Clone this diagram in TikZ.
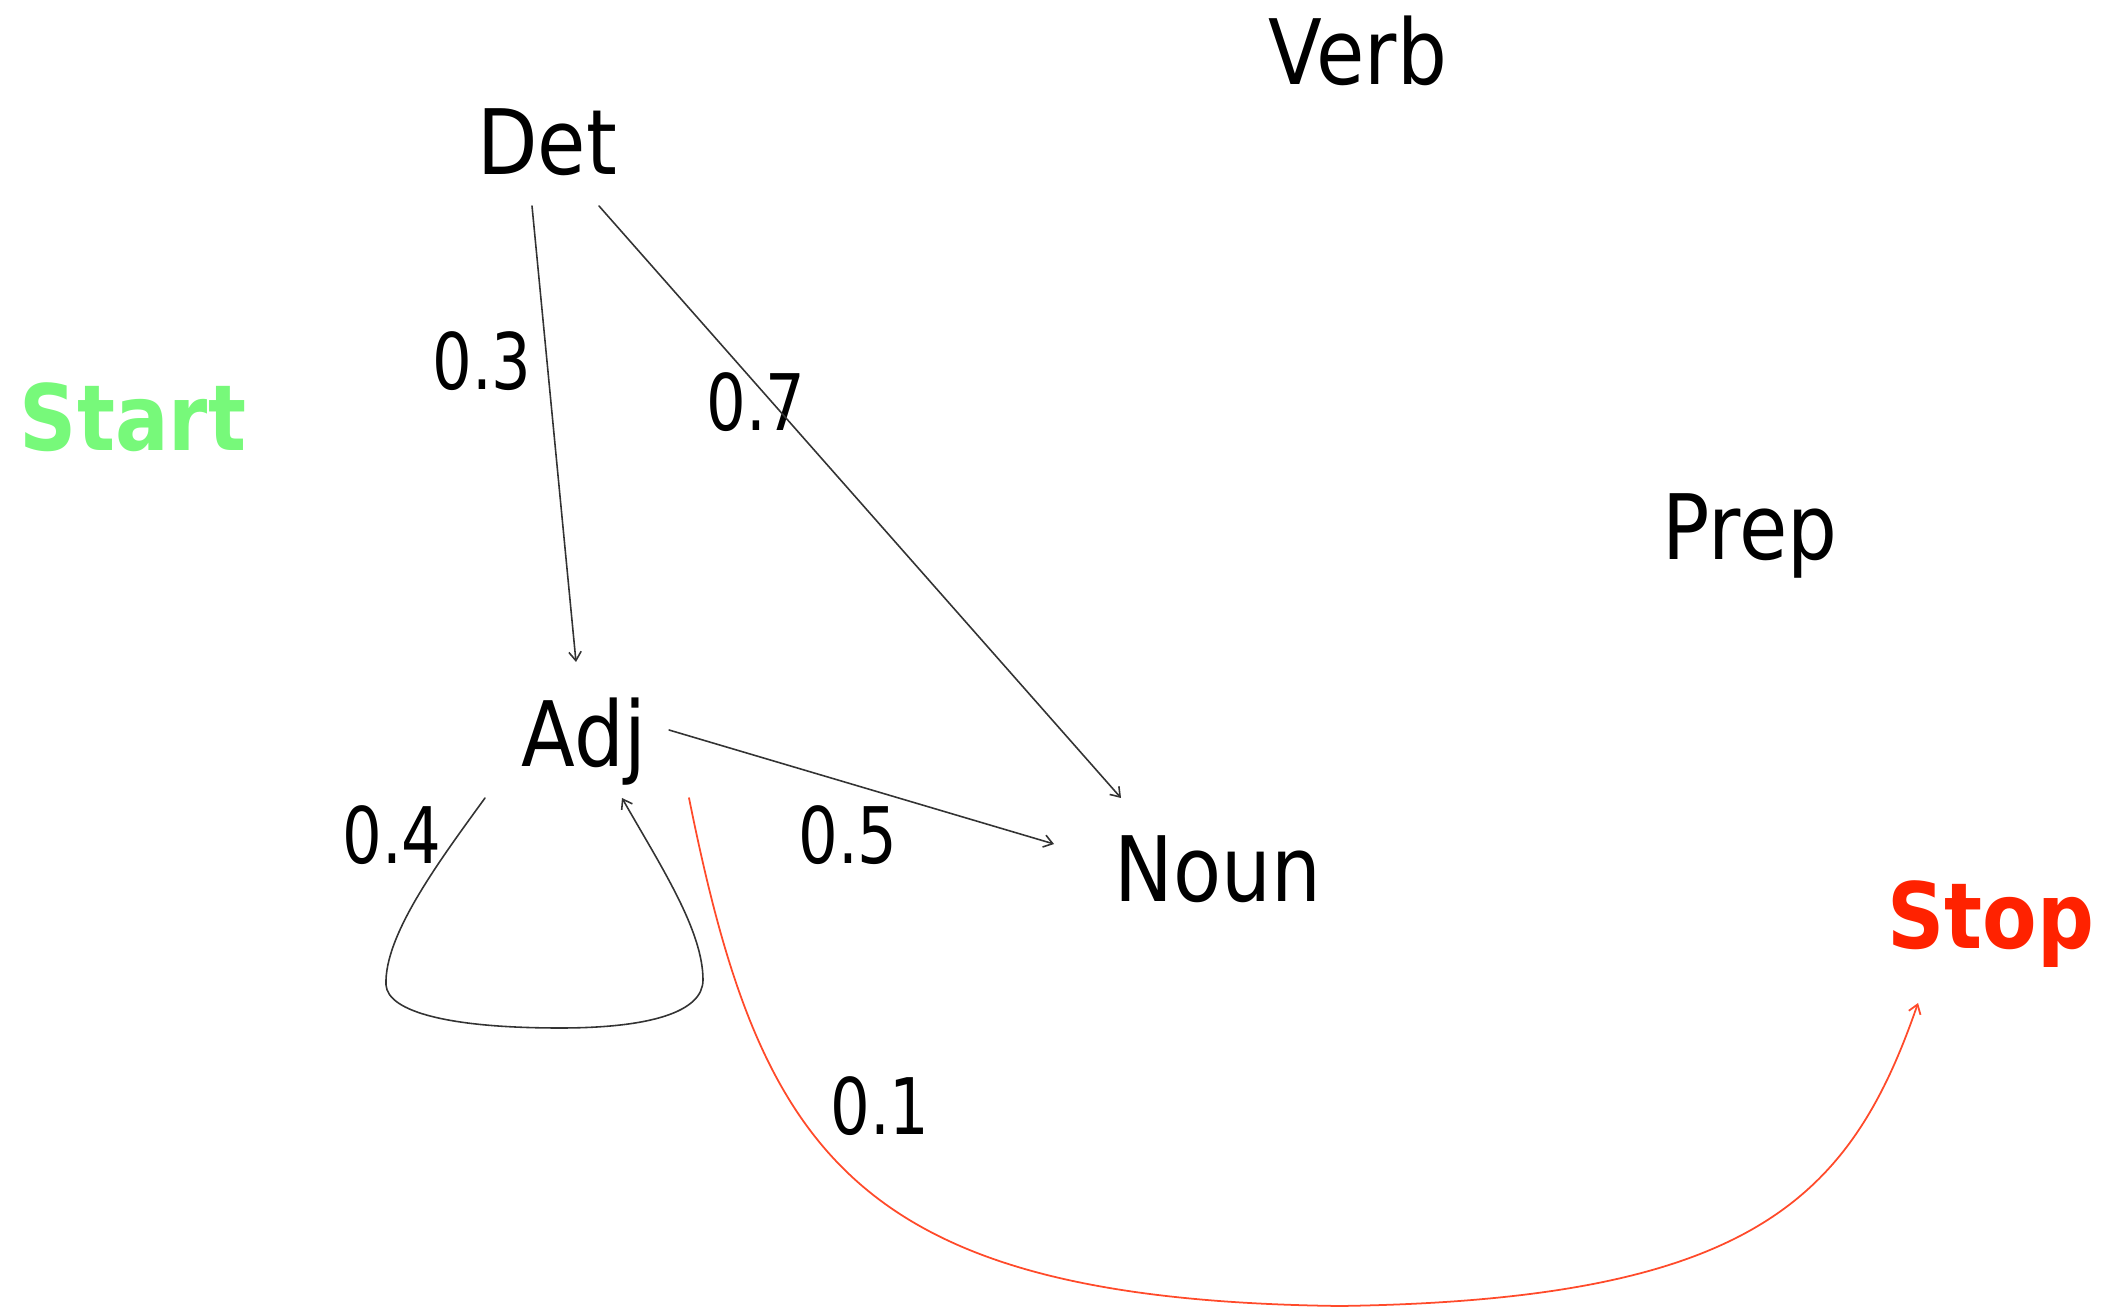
\documentclass[tikz,border=0pt]{standalone}
\usepackage{fontspec}
\setmainfont[FakeStretch=0.87]{DejaVu Sans}
\newfontfamily\numfont[FakeStretch=0.8]{DejaVu Sans}
\usetikzlibrary{arrows.meta}
\definecolor{startgreen}{HTML}{77F97A}
\definecolor{stopred}{HTML}{FF2200}
\definecolor{linered}{HTML}{FF4A2A}
\definecolor{linegray}{HTML}{333333}

\begin{document}
\begin{tikzpicture}[line cap=round, line join=round,
    tagnode/.style={anchor=base, inner sep=0pt, font=\fontsize{25.7}{30}\selectfont},
    probnode/.style={anchor=base, inner sep=0pt, font=\numfont\fontsize{22.2}{26}\selectfont},
    trans/.style={draw=linegray, line width=0.45pt, -{Straight Barb[length=2.5pt,width=3.5pt]}},
    stoptrans/.style={draw=linered, line width=0.5pt, -{Straight Barb[length=2.5pt,width=3.5pt]}}]

\useasboundingbox (0,0) rectangle (21.11,-13.09);

% === ESTADOS ===
\node[tagnode] (verb) at (13.58,-0.85) {Verb};
\node[tagnode] (det) at (5.47,-1.75) {Det};
\node[tagnode, font=\fontsize{26}{30}\selectfont\bfseries, text=startgreen] (start) at (1.33,-4.51) {Start};
\node[tagnode] (prep) at (17.50,-5.60) {Prep};
\node[tagnode] (adj) at (5.84,-7.67) {Adj};
\node[tagnode] (noun) at (12.18,-9.02) {Noun};
\node[tagnode, font=\fontsize{26}{30}\selectfont\bfseries, text=stopred] (stop) at (19.91,-9.49) {Stop};

% === PROBABILIDADES ===
\node[probnode] (p03) at (4.82,-3.90) {0.3};
\node[probnode] (p07) at (7.56,-4.31) {0.7};
\node[probnode] (p04) at (3.92,-8.64) {0.4};
\node[probnode] (p05) at (8.48,-8.64) {0.5};
\node[probnode] (p01) at (8.80,-11.34) {0.1};

% === TRANSICIONES ===
\draw[trans] ([shift={(-0.15,-0.31)}]det.base) -- ([shift={(-0.08,1.05)}]adj.base);
\draw[trans] ([shift={(0.52,-0.31)}]det.base) -- ([shift={(-0.97,1.04)}]noun.base);
\draw[trans] ([shift={(0.85,0.37)}]adj.base) -- ([shift={(-1.64,0.58)}]noun.base);
% Bucle Adj -> Adj
\draw[trans] ([shift={(-0.99,-0.31)}]adj.base)
    .. controls (4.40,-8.60) and (3.84,-9.35) .. (3.86,-9.85)
    .. controls (3.88,-10.12) and (4.50,-10.28) .. (5.60,-10.28)
    .. controls (6.50,-10.28) and (7.03,-10.12) .. (7.03,-9.80)
    .. controls (7.03,-9.30) and (6.60,-8.65) .. ([shift={(0.38,-0.31)}]adj.base);
% Adj -> Stop (rojo)
\draw[stoptrans] ([shift={(1.05,-0.31)}]adj.base)
    .. controls (7.60,-11.50) and (8.50,-13.00) .. (13.40,-13.06)
    .. controls (17.50,-13.00) and (18.50,-12.00) .. ([shift={(-0.73,-0.54)}]stop.base);

\end{tikzpicture}
\end{document}
